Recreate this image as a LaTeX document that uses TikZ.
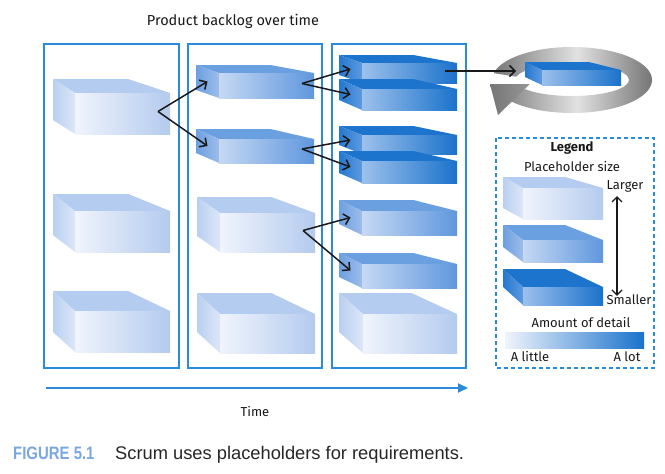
\documentclass[tikz,border=0pt]{standalone}
\usepackage{fontspec}
\setmainfont{Liberation Sans}
\newfontfamily\handfont{Fira Sans}
\usepackage{tikz}
\usetikzlibrary{arrows.meta,calc}

\definecolor{frameblue}{HTML}{2B8BDB}
\definecolor{capblue}{HTML}{7BA7E0}
\definecolor{ltop}{HTML}{B4CCEF}
\definecolor{lfa}{HTML}{F0F4FC}
\definecolor{lfb}{HTML}{B4CBEE}
\definecolor{lsa}{HTML}{B9CFF0}
\definecolor{lsb}{HTML}{DCE7F8}
\definecolor{mtop}{HTML}{6A9FE0}
\definecolor{mfa}{HTML}{C6D8F3}
\definecolor{mfb}{HTML}{5F97DD}
\definecolor{msa}{HTML}{6D9FE0}
\definecolor{msb}{HTML}{9DBDEB}
\definecolor{dtop}{HTML}{1C74CC}
\definecolor{dfa}{HTML}{9DC0EC}
\definecolor{dfb}{HTML}{1A72CB}
\definecolor{dsa}{HTML}{2478CF}
\definecolor{dsb}{HTML}{5D9AE0}
\definecolor{ringdark}{HTML}{767676}
\definecolor{ringlight}{HTML}{E2E2E2}

% block: name, front x, front y, width, height, depth x, depth y, colour set
\newcommand{\blok}[8]{%
\fill[#8top] ({#2-#6},{#3-#7}) -- ({#2+#4-1.9*#6},{#3-#7}) -- ({#2+#4},#3) -- (#2,#3) -- cycle;
\shade[left color=#8sa,right color=#8sb] ({#2-#6},{#3-#7}) -- (#2,#3) -- (#2,{#3+#5}) -- ({#2-#6},{#3+#5-#7}) -- cycle;
\shade[left color=#8fa,right color=#8fb] (#2,#3) rectangle ({#2+#4},{#3+#5});
\coordinate (#1-r) at ({#2+#4-12},{#3+#5/2-2});
\coordinate (#1-l) at ({#2-#6/2},{#3+#5/2-#7/2});
}

\begin{document}
\begin{tikzpicture}[x=1pt,y=-1pt,
frame/.style={draw=frameblue,line width=1.4pt},
flow/.style={draw=black!90,line width=1.5pt,-{Straight Barb[length=5.5pt,width=11pt]}},
both/.style={draw=black!90,line width=1.3pt,{Straight Barb[length=5pt,width=10pt]}-{Straight Barb[length=5pt,width=10pt]}},
hand/.style={font=\handfont\fontsize{13}{15}\selectfont,text=black!90,inner sep=0pt}]
\useasboundingbox (0,0) rectangle (665,474);

\node[hand,font=\handfont\fontsize{14.5}{16}\selectfont] (title) at (233,21) {Product backlog over time};

\draw[frame] (44,44) rectangle (179,368);
\draw[frame] (188,44) rectangle (322,368);
\draw[frame] (332,44) rectangle (466,368);

\blok{c1a}{75}{93}{95}{41}{22}{14}{l}
\blok{c1b}{75}{211}{95}{41}{22}{17}{l}
\blok{c1c}{75}{311}{95}{41}{22}{20}{l}

\blok{c2a}{219}{73}{95}{25}{23}{8}{m}
\blok{c2b}{219}{139}{95}{24}{23}{10}{m}
\blok{c2c}{220}{213}{95}{39}{23}{16}{l}
\blok{c2d}{220}{314}{95}{39}{23}{21}{l}

\blok{c3a}{362}{63}{95}{20}{23}{8}{d}
\blok{c3b}{362}{89}{95}{21}{23}{10}{d}
\blok{c3c}{362}{135}{95}{19}{23}{9}{d}
\blok{c3d}{362}{161}{95}{22}{23}{10}{d}
\blok{c3e}{362}{211}{95}{24}{23}{11}{m}
\blok{c3f}{362}{264}{95}{24}{23}{11}{m}
\blok{c3g}{363}{314}{94}{39}{24}{21}{l}

\shade[left color=ringdark,right color=ringdark!90!black,middle color=ringlight]
(572,80) ++(192:80 and 33) arc[start angle=192,end angle=505,x radius=80,y radius=33]
-- (525.3,89.2) arc[start angle=505,end angle=192,x radius=57,y radius=16] -- cycle;
\shade[left color=ringdark,right color=ringdark!70!ringlight] (498,115) -- (530,84) -- (490,84) -- cycle;
\blok{rb}{542}{70}{79}{15}{17}{8}{d}
\coordinate (loopin) at (516,71);

\draw[flow] (c1a-r) -- (c2a-l);
\draw[flow] (c1a-r) -- (c2b-l);
\draw[flow] (c2a-r) -- (c3a-l);
\draw[flow] (c2a-r) -- (c3b-l);
\draw[flow] (c2b-r) -- (c3c-l);
\draw[flow] (c2b-r) -- (c3d-l);
\draw[flow] (c2c-r) -- (c3e-l);
\draw[flow] (c2c-r) -- (c3f-l);
\draw[flow] (c3a-r) -- (loopin);

\draw[draw=frameblue,line width=1.2pt,dash pattern=on 4pt off 3pt] (496,138) rectangle (654,368);
\node[hand,font=\handfont\bfseries\fontsize{13}{15}\selectfont] (lgtitle) at (572,148) {Legend};
\node[hand] (lgsize) at (572,167) {Placeholder size};
\blok{lg1}{523}{188}{80}{31}{20}{11}{l}
\blok{lg2}{523}{240}{80}{22}{20}{15}{m}
\blok{lg3}{523}{287}{80}{18}{20}{18}{d}
\node[hand] (lgbig) at (625,186) {Larger};
\node[hand] (lgsmall) at (629,300) {Smaller};
\draw[both] ($(lgbig.south)+(-8,4)$) -- ($(lgsmall.north)+(-12,1)$);
\node[hand] (lgdetail) at (581,323) {Amount of detail};
\shade[left color=lfa,right color=dfb] (505,332) rectangle (644,348);
\node[hand] (lglittle) at (530,357) {A little};
\node[hand] (lglot) at (627,357) {A lot};

\coordinate (tstart) at (46,388);
\coordinate (tend) at (468,388);
\draw[draw=frameblue,line width=2pt,-{Triangle[length=10pt,width=9pt]}] (tstart) -- (tend);
\node[hand] (time) at (255,412) {Time};

\node[anchor=base west,inner sep=0pt,text=capblue,font=\bfseries\fontsize{18}{20}\selectfont] (fignum) at (13,459) {\scalebox{0.83}[1]{FIGURE 5.1}};
\node[anchor=base west,inner sep=0pt,text=black!85,font=\fontsize{18.3}{20}\selectfont] (figtext) at (115,459) {Scrum uses placeholders for requirements.};
\end{tikzpicture}
\end{document}
